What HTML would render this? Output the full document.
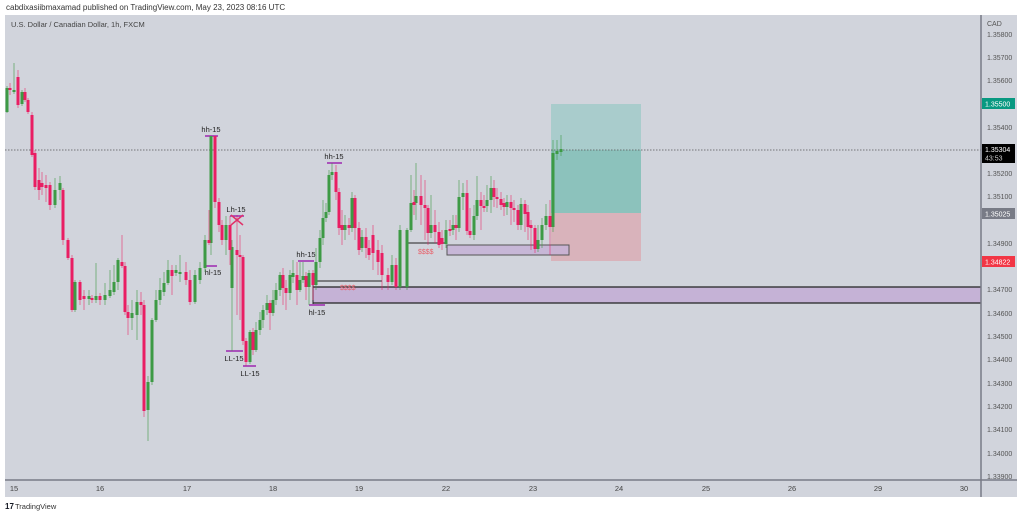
<!DOCTYPE html>
<html><head><meta charset="utf-8"><style>
body{margin:0;background:#fff;width:1023px;height:517px;overflow:hidden;font-family:"Liberation Sans",sans-serif}
</style></head><body>
<svg width="1023" height="517" xmlns="http://www.w3.org/2000/svg" font-family="Liberation Sans, sans-serif">
<rect width="1023" height="517" fill="#fff"/>
<text x="6" y="10" font-size="8" fill="#333">cabdixasiibmaxamad published on TradingView.com, May 23, 2023 08:16 UTC</text>
<rect x="5" y="15" width="1012" height="482" fill="#d1d4dc"/>
<text x="11" y="27" font-size="7.5" fill="#444">U.S. Dollar / Canadian Dollar, 1h, FXCM</text>
<rect x="551" y="104" width="90" height="46" fill="#a9cccc"/>
<rect x="551" y="150" width="90" height="63" fill="#8cc2bc"/>
<rect x="551" y="213" width="90" height="48" fill="#d9b3bb"/>
<!-- zones -->
<rect x="313" y="287" width="668" height="16" fill="#c5b2d6"/>
<line x1="313" y1="287" x2="981" y2="287" stroke="#222" stroke-width="1.2"/>
<line x1="313" y1="303" x2="981" y2="303" stroke="#222" stroke-width="1.2"/>
<line x1="313" y1="280" x2="313" y2="304" stroke="#222"/>
<line x1="316" y1="281" x2="382" y2="281" stroke="#222"/>
<text x="340" y="290" font-size="7" fill="#e8606a">$$$$</text>
<rect x="447" y="245" width="122" height="10" fill="#c5b2d6" fill-opacity="0.85" stroke="#555"/>
<line x1="407" y1="243" x2="447" y2="243" stroke="#222"/>
<text x="418" y="254" font-size="7" fill="#e8606a">$$$$</text>
<line x1="5" y1="150" x2="981" y2="150" stroke="#555" stroke-dasharray="1.5,1.5" stroke-width="0.8"/>
<!-- markers -->
<g stroke="#9c27b0" stroke-width="1.5">
<line x1="205" y1="136" x2="218" y2="136"/><line x1="230" y1="216" x2="244" y2="216"/>
<line x1="206" y1="266" x2="217" y2="266"/><line x1="226" y1="351" x2="243" y2="351"/>
<line x1="243" y1="366" x2="256" y2="366"/><line x1="327" y1="163" x2="342" y2="163"/>
<line x1="298" y1="261" x2="314" y2="261"/><line x1="309" y1="305" x2="325" y2="305"/>
</g>
<g font-size="7.5" fill="#222" text-anchor="middle">
<text x="211" y="132">hh-15</text><text x="236" y="212">Lh-15</text><text x="213" y="275">hl-15</text>
<text x="234" y="361">LL-15</text><text x="250" y="376">LL-15</text><text x="334" y="159">hh-15</text>
<text x="306" y="257">hh-15</text><text x="317" y="315">hl-15</text>
</g>
<path d="M231 215l12 10M243 215l-12 10" stroke="#e0336a" stroke-width="1.5"/>
<!-- wicks green -->
<path stroke="#3d9a45" stroke-opacity="0.6" fill="none" d="M7 86V113M14 63V94M22 90V106M55 178V208M60 176V200M75 280V312M89 290V305M96 263V303M105 283V305M110 270V298M114 265V295M118 258V290M132 300V330M137 290V340M148 376V441M152 318V385M156 290V322M160 278V305M164 272V296M168 260V285M176 265V276M180 255V282M195 270V304M200 262V284M205 235V272M211 136V255M226 216V255M232 240V351M250 330V364M256 322V352M260 312V335M263 305V328M267 295V315M273 290V316M276 283V305M280 272V296M290 270V300M293 260V283M300 262V292M303 262V283M309 270V305M316 248V290M320 230V268M323 200V245M326 203V222M329 170V215M332 163V180M345 215V240M352 192V232M362 230V252M392 255V285M400 225V290M407 228V290M411 175V232M416 163V220M431 195V238M446 220V248M453 215V235M459 180V232M463 183V210M474 205V240M477 176V220M487 185V212M491 176V213M507 195V215M521 198V230M538 225V252M542 218V248M546 204V230M553 140V232M557 140V160M561 135V156"/>
<path stroke="#e91e63" stroke-opacity="0.55" fill="none" d="M10 83V95M18 70V108M25 88V102M28 98V114M32 112V157M35 150V190M39 168V200M42 172V195M46 175V202M50 182V210M63 188V245M68 238V260M72 255V312M80 280V305M84 290V310M92 295V303M100 293V305M122 235V268M125 262V315M128 305V335M141 292V315M144 300V417M172 265V295M186 262V285M190 270V305M209 210V245M215 136V208M219 198V232M222 220V245M230 216V265M237 215V315M240 235V320M243 255V345M246 338V366M253 328V355M270 300V330M283 268V305M286 280V310M297 262V305M306 272V300M313 270V300M336 165V200M339 188V235M342 210V245M349 218V235M355 195V240M359 222V255M366 228V258M369 240V260M373 225V270M378 240V275M382 245V290M388 268V290M396 258V290M414 190V215M421 175V225M425 180V240M428 205V245M435 210V243M439 222V248M442 230V250M450 220V236M456 215V240M467 180V235M470 208V238M481 192V230M484 195V212M494 180V207M497 188V208M501 192V210M504 198V216M511 195V225M514 200V222M518 205V230M525 200V232M528 205V240M531 220V250M535 225V253M550 200V255"/>
<g fill="#3d9a45">
<rect x="5.5" y="88" width="3" height="24"/><rect x="12.5" y="90" width="3" height="2"/><rect x="20.5" y="92" width="3" height="12"/><rect x="53.5" y="190" width="3" height="15"/><rect x="58.5" y="183" width="3" height="7"/><rect x="73.5" y="282" width="3" height="28"/><rect x="87.5" y="296" width="3" height="3"/><rect x="94.5" y="296" width="3" height="4"/><rect x="103.5" y="295" width="3" height="5"/><rect x="108.5" y="290" width="3" height="6"/><rect x="112.5" y="282" width="3" height="10"/><rect x="116.5" y="260" width="3" height="22"/><rect x="130.5" y="313" width="3" height="5"/><rect x="135.5" y="302" width="3" height="13"/><rect x="146.5" y="382" width="3" height="28"/><rect x="150.5" y="320" width="3" height="62"/><rect x="154.5" y="300" width="3" height="20"/><rect x="158.5" y="290" width="3" height="10"/><rect x="162.5" y="283" width="3" height="9"/><rect x="166.5" y="270" width="3" height="13"/><rect x="174.5" y="270" width="3" height="3"/><rect x="178.5" y="272" width="3" height="2"/><rect x="193.5" y="275" width="3" height="27"/><rect x="198.5" y="268" width="3" height="12"/><rect x="203.5" y="240" width="3" height="28"/><rect x="209.5" y="136" width="3" height="107"/><rect x="224.5" y="225" width="3" height="15"/><rect x="230.5" y="247" width="3" height="41"/><rect x="248.5" y="332" width="3" height="30"/><rect x="254.5" y="330" width="3" height="20"/><rect x="258.5" y="320" width="3" height="10"/><rect x="261.5" y="310" width="3" height="10"/><rect x="265.5" y="303" width="3" height="7"/><rect x="271.5" y="300" width="3" height="13"/><rect x="274.5" y="290" width="3" height="10"/><rect x="278.5" y="275" width="3" height="15"/><rect x="288.5" y="275" width="3" height="18"/><rect x="291.5" y="273" width="3" height="4"/><rect x="298.5" y="280" width="3" height="10"/><rect x="301.5" y="276" width="3" height="4"/><rect x="307.5" y="273" width="3" height="14"/><rect x="314.5" y="262" width="3" height="23"/><rect x="318.5" y="238" width="3" height="24"/><rect x="321.5" y="218" width="3" height="20"/><rect x="324.5" y="212" width="3" height="6"/><rect x="327.5" y="175" width="3" height="37"/><rect x="330.5" y="172" width="3" height="3"/><rect x="343.5" y="225" width="3" height="5"/><rect x="350.5" y="198" width="3" height="30"/><rect x="360.5" y="237" width="3" height="11"/><rect x="390.5" y="265" width="3" height="17"/><rect x="398.5" y="230" width="3" height="57"/><rect x="405.5" y="230" width="3" height="57"/><rect x="409.5" y="203" width="3" height="27"/><rect x="414.5" y="196" width="3" height="7"/><rect x="429.5" y="225" width="3" height="8"/><rect x="444.5" y="230" width="3" height="14"/><rect x="451.5" y="225" width="3" height="5"/><rect x="457.5" y="197" width="3" height="31"/><rect x="461.5" y="193" width="3" height="4"/><rect x="472.5" y="216" width="3" height="19"/><rect x="475.5" y="200" width="3" height="16"/><rect x="485.5" y="200" width="3" height="6"/><rect x="489.5" y="188" width="3" height="12"/><rect x="505.5" y="202" width="3" height="5"/><rect x="519.5" y="204" width="3" height="21"/><rect x="536.5" y="240" width="3" height="9"/><rect x="540.5" y="225" width="3" height="15"/><rect x="544.5" y="216" width="3" height="9"/><rect x="551.5" y="153" width="3" height="74"/><rect x="555.5" y="151" width="3" height="3"/><rect x="559.5" y="149" width="3" height="3"/>
</g>
<g fill="#e91e63">
<rect x="8.5" y="88" width="3" height="2"/><rect x="16.5" y="77" width="3" height="28"/><rect x="23.5" y="92" width="3" height="8"/><rect x="26.5" y="100" width="3" height="12"/><rect x="30.5" y="115" width="3" height="40"/><rect x="33.5" y="153" width="3" height="34"/><rect x="37.5" y="180" width="3" height="10"/><rect x="40.5" y="183" width="3" height="4"/><rect x="44.5" y="185" width="3" height="3"/><rect x="48.5" y="185" width="3" height="20"/><rect x="61.5" y="190" width="3" height="50"/><rect x="66.5" y="240" width="3" height="18"/><rect x="70.5" y="258" width="3" height="52"/><rect x="78.5" y="282" width="3" height="18"/><rect x="82.5" y="296" width="3" height="3"/><rect x="90.5" y="298" width="3" height="2"/><rect x="98.5" y="296" width="3" height="4"/><rect x="120.5" y="262" width="3" height="4"/><rect x="123.5" y="266" width="3" height="46"/><rect x="126.5" y="312" width="3" height="6"/><rect x="139.5" y="302" width="3" height="3"/><rect x="142.5" y="305" width="3" height="106"/><rect x="170.5" y="270" width="3" height="6"/><rect x="184.5" y="272" width="3" height="8"/><rect x="188.5" y="280" width="3" height="22"/><rect x="207.5" y="240" width="3" height="3"/><rect x="213.5" y="136" width="3" height="66"/><rect x="217.5" y="202" width="3" height="23"/><rect x="220.5" y="225" width="3" height="15"/><rect x="228.5" y="225" width="3" height="25"/><rect x="235.5" y="250" width="3" height="5"/><rect x="238.5" y="255" width="3" height="2"/><rect x="241.5" y="257" width="3" height="84"/><rect x="244.5" y="341" width="3" height="21"/><rect x="251.5" y="332" width="3" height="18"/><rect x="268.5" y="303" width="3" height="10"/><rect x="281.5" y="275" width="3" height="13"/><rect x="284.5" y="288" width="3" height="5"/><rect x="295.5" y="275" width="3" height="15"/><rect x="304.5" y="276" width="3" height="11"/><rect x="311.5" y="273" width="3" height="12"/><rect x="334.5" y="172" width="3" height="20"/><rect x="337.5" y="192" width="3" height="36"/><rect x="340.5" y="225" width="3" height="5"/><rect x="347.5" y="225" width="3" height="3"/><rect x="353.5" y="198" width="3" height="30"/><rect x="357.5" y="228" width="3" height="22"/><rect x="364.5" y="237" width="3" height="11"/><rect x="367.5" y="248" width="3" height="7"/><rect x="371.5" y="235" width="3" height="18"/><rect x="376.5" y="250" width="3" height="12"/><rect x="380.5" y="253" width="3" height="22"/><rect x="386.5" y="275" width="3" height="7"/><rect x="394.5" y="265" width="3" height="22"/><rect x="412.5" y="202" width="3" height="3"/><rect x="419.5" y="196" width="3" height="9"/><rect x="423.5" y="205" width="3" height="3"/><rect x="426.5" y="208" width="3" height="25"/><rect x="433.5" y="225" width="3" height="7"/><rect x="437.5" y="232" width="3" height="13"/><rect x="440.5" y="238" width="3" height="6"/><rect x="448.5" y="229" width="3" height="2"/><rect x="454.5" y="225" width="3" height="3"/><rect x="465.5" y="193" width="3" height="38"/><rect x="468.5" y="231" width="3" height="4"/><rect x="479.5" y="200" width="3" height="6"/><rect x="482.5" y="206" width="3" height="2"/><rect x="492.5" y="188" width="3" height="9"/><rect x="495.5" y="197" width="3" height="2"/><rect x="499.5" y="199" width="3" height="6"/><rect x="502.5" y="203" width="3" height="4"/><rect x="509.5" y="202" width="3" height="6"/><rect x="512.5" y="208" width="3" height="2"/><rect x="516.5" y="210" width="3" height="15"/><rect x="523.5" y="204" width="3" height="10"/><rect x="526.5" y="212" width="3" height="15"/><rect x="529.5" y="225" width="3" height="3"/><rect x="533.5" y="228" width="3" height="21"/><rect x="548.5" y="216" width="3" height="11"/>
</g>
<!-- axes -->
<line x1="981" y1="15" x2="981" y2="497" stroke="#787b86" stroke-width="1.5"/>
<line x1="5" y1="480" x2="1017" y2="480" stroke="#787b86" stroke-width="1.5"/>
<g font-size="7" fill="#555">
<text x="987" y="26">CAD</text>
<text x="987" y="37">1.35800</text><text x="987" y="60">1.35700</text><text x="987" y="83">1.35600</text>
<text x="987" y="130">1.35400</text><text x="987" y="176">1.35200</text><text x="987" y="199">1.35100</text>
<text x="987" y="246">1.34900</text><text x="987" y="292">1.34700</text><text x="987" y="316">1.34600</text>
<text x="987" y="339">1.34500</text><text x="987" y="362">1.34400</text><text x="987" y="386">1.34300</text>
<text x="987" y="409">1.34200</text><text x="987" y="432">1.34100</text><text x="987" y="456">1.34000</text>
<text x="987" y="479">1.33900</text>
</g>
<rect x="982" y="98" width="33" height="11" fill="#089981"/><text x="985" y="106.5" font-size="7" fill="#fff">1.35500</text>
<rect x="982" y="144" width="33" height="19" fill="#000"/><text x="985" y="152" font-size="7" fill="#fff">1.35304</text><text x="985" y="160.5" font-size="7" fill="#ccc">43:53</text>
<rect x="982" y="208" width="33" height="11" fill="#787b86"/><text x="985" y="216.5" font-size="7" fill="#fff">1.35025</text>
<rect x="982" y="256" width="33" height="11" fill="#f23645"/><text x="985" y="264.5" font-size="7" fill="#fff">1.34822</text>
<g font-size="7.5" fill="#444" text-anchor="middle">
<text x="14" y="491">15</text><text x="100" y="491">16</text><text x="187" y="491">17</text><text x="273" y="491">18</text>
<text x="359" y="491">19</text><text x="446" y="491">22</text><text x="533" y="491">23</text><text x="619" y="491">24</text>
<text x="706" y="491">25</text><text x="792" y="491">26</text><text x="878" y="491">29</text><text x="964" y="491">30</text>
</g>
<text x="5" y="509" font-size="8" font-weight="bold" fill="#131722">17</text>
<text x="15" y="509" font-size="7.5" fill="#333">TradingView</text>
</svg>
</body></html>
